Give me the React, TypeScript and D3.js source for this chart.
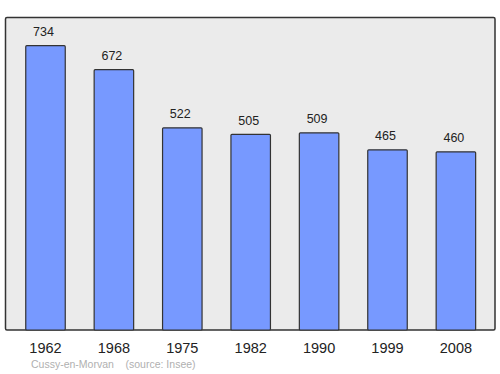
import React from "react";
import * as d3 from "d3";

const years = ["1962", "1968", "1975", "1982", "1990", "1999", "2008"];
const population = [734, 672, 522, 505, 509, 465, 460];
const sourceText = "Cussy-en-Morvan    (source: Insee)";

export default function App() {
  const W = 500, H = 374;
  const frame = { x0: 5.5, y0: 17.5, x1: 495, y1: 330 };
  const x = d3.scaleBand().domain(years).range([11.3, 11.3 + 7 * 68.4]).padding(0);
  const y = d3.scaleLinear().domain([0, 806.7]).range([frame.y1, frame.y0]);
  const bw = 39.5;
  const font = "Liberation Sans, Arial, sans-serif";
  return (
    <div style={{ position: "fixed", left: 0, top: 0 }}>
      <svg width={W} height={H} style={{ display: "block", background: "#fff" }}>
        <rect x={frame.x0} y={frame.y0} width={frame.x1 - frame.x0} height={frame.y1 - frame.y0}
          fill="#ebebeb" stroke="#333" strokeWidth={1.5} rx={1.5} />
        {years.map((yr, i) => {
          const cx = (x(yr) as number) + x.bandwidth() / 2;
          const v = population[i];
          return (
            <g key={yr}>
              <rect x={cx - bw / 2} y={y(v)} width={bw} height={frame.y1 - y(v)}
                fill="#7799ff" stroke="#333" strokeWidth={1.2} rx={1} />
              <text x={cx - 2} y={y(v) - 9.5} textAnchor="middle" fontFamily={font} fontSize={12.5} fill="#222">{v}</text>
              <text x={cx} y={352.5} textAnchor="middle" fontFamily={font} fontSize={14.5} fill="#222">{yr}</text>
            </g>
          );
        })}
        <text x={31} y={368} fontFamily={font} fontSize={10.5} fill="#b0b0b0" style={{ whiteSpace: "pre" }}>{sourceText}</text>
      </svg>
    </div>
  );
}
